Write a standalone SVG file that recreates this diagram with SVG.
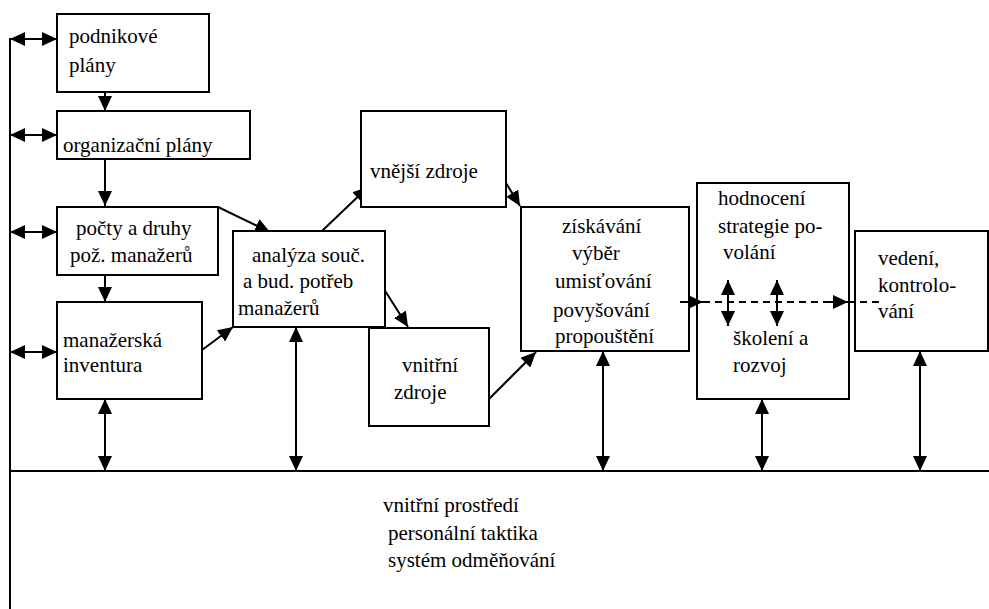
<svg xmlns="http://www.w3.org/2000/svg" width="989" height="609" viewBox="0 0 989 609">
<style>
.box{fill:#fff;stroke:#000;stroke-width:2}
.ln{stroke:#000;stroke-width:2;fill:none}
.a{marker-end:url(#ah)}
.d{marker-start:url(#ah);marker-end:url(#ah)}
.dash{stroke-dasharray:7 5}
.t{font-family:"Liberation Serif","Times New Roman",serif;font-size:21px;fill:#000}
</style>
<defs>
<marker id="ah" markerUnits="userSpaceOnUse" markerWidth="15" markerHeight="14" refX="15" refY="7" orient="auto-start-reverse" viewBox="0 0 15 14">
<path d="M0,0 L15,7 L0,14 z" fill="#000"/>
</marker>
</defs>
<rect width="989" height="609" fill="#fff"/>
<g id="connectors">
<line class="ln" x1="10" y1="38" x2="10" y2="609"/>
<line class="ln" x1="10" y1="471" x2="989" y2="471"/>
<line class="ln d" x1="10" y1="39" x2="57" y2="39"/>
<line class="ln d" x1="10" y1="135" x2="57" y2="135"/>
<line class="ln d" x1="10" y1="232" x2="57" y2="232"/>
<line class="ln d" x1="10" y1="352" x2="57" y2="352"/>
<line class="ln a" x1="105" y1="92" x2="105" y2="111"/>
<line class="ln a" x1="105" y1="159" x2="105" y2="206"/>
<line class="ln a" x1="105" y1="275" x2="105" y2="302"/>
<line class="ln d" x1="105" y1="399" x2="105" y2="471"/>
<line class="ln d" x1="296" y1="327" x2="296" y2="471"/>
<line class="ln d" x1="603" y1="351" x2="603" y2="471"/>
<line class="ln d" x1="762" y1="399" x2="762" y2="471"/>
<line class="ln d" x1="920" y1="351" x2="920" y2="471"/>
<line class="ln a" x1="218" y1="207" x2="270" y2="232"/>
<line class="ln a" x1="202" y1="350" x2="233" y2="327"/>
<line class="ln a" x1="322" y1="231" x2="368" y2="187"/>
<line class="ln a" x1="377" y1="278" x2="408" y2="327"/>
<line class="ln a" x1="506" y1="183" x2="520" y2="206"/>
<line class="ln a" x1="489" y1="399" x2="536" y2="352"/>
</g>
<g class="t">
<g id="n1"><rect class="box" x="57" y="14" width="152" height="78"/>
<text x="69" y="43">podnikové</text><text x="69" y="72">plány</text></g>
<g id="n2"><rect class="box" x="57" y="111" width="193" height="48"/>
<text x="63" y="152">organizační plány</text></g>
<g id="n3"><rect class="box" x="57" y="207" width="161" height="68"/>
<text x="76" y="235">počty a druhy</text><text x="70" y="262">pož. manažerů</text></g>
<g id="n4"><rect class="box" x="57" y="302" width="145" height="97"/>
<text x="63" y="347">manažerská</text><text x="63" y="372">inventura</text></g>
<g id="n5"><rect class="box" x="233" y="231" width="152" height="96"/>
<text x="252" y="262">analýza souč.</text><text x="243" y="288">a bud. potřeb</text><text x="238" y="315">manažerů</text></g>
<g id="n6"><rect class="box" x="361" y="111" width="145" height="96"/>
<text x="370" y="178">vnější zdroje</text></g>
<g id="n7"><rect class="box" x="369" y="328" width="120" height="98"/>
<text x="402" y="372">vnitřní</text><text x="394" y="399">zdroje</text></g>
<g id="n8"><rect class="box" x="521" y="207" width="168" height="144"/>
<text x="562" y="233">získávání</text><text x="572" y="260">výběr</text><text x="555" y="288">umisťování</text><text x="553" y="317">povyšování</text><text x="555" y="343">propouštění</text></g>
<g id="n9"><rect class="box" x="697" y="183" width="152" height="216"/>
<text x="718" y="205">hodnocení</text><text x="718" y="233">strategie po-</text><text x="723" y="259">volání</text><text x="733" y="345">školení a</text><text x="733" y="372">rozvoj</text></g>
<g id="n10"><rect class="box" x="855" y="231" width="133" height="120"/>
<text x="878" y="265">vedení,</text><text x="878" y="292">kontrolo-</text><text x="878" y="318">vání</text></g>
<g id="env">
<text x="383" y="512">vnitřní prostředí</text>
<text x="388" y="540">personální taktika</text>
<text x="388" y="567">systém odměňování</text>
</g>
</g>
<g id="flow">
<line class="ln a" x1="680" y1="302" x2="703" y2="302"/>
<line class="ln dash" x1="703" y1="302" x2="833" y2="302"/>
<line class="ln a" x1="830" y1="302" x2="848" y2="302"/>
<line class="ln dash" x1="848" y1="302" x2="882" y2="302"/>
<line class="ln d" x1="728" y1="280" x2="728" y2="326"/>
<line class="ln d" x1="777" y1="280" x2="777" y2="326"/>
</g>
</svg>
